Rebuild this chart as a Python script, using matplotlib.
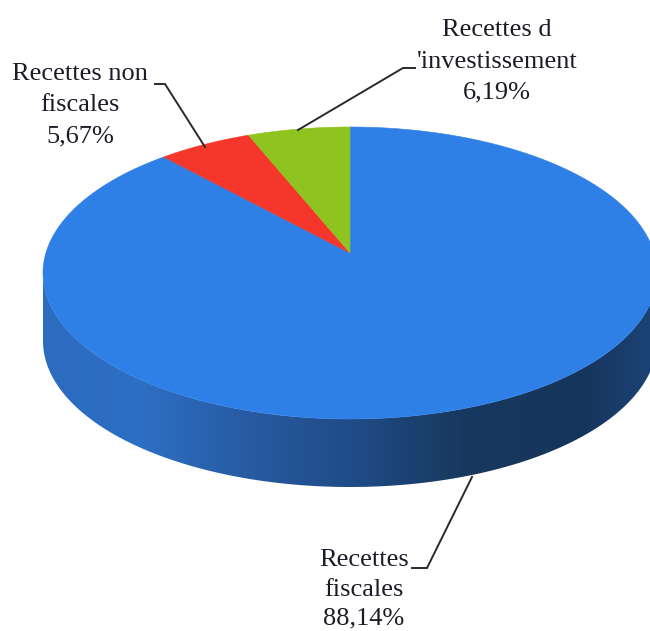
import numpy as np
import matplotlib
matplotlib.use("Agg")
import matplotlib.pyplot as plt
from matplotlib.colors import LinearSegmentedColormap
from matplotlib.patches import Polygon

# Data
categories = ["Recettes fiscales", "Recettes non fiscales", "Recettes d 'investissement"]
shares = [88.14, 5.67, 6.19]
colors = ["#2F80E6", "#F5372B", "#8FC31F"]
labels = [["Recettes", "fiscales", "88,14%"],
          ["Recettes non", "fiscales", "5,67%"],
          ["Recettes d", "'investissement", "6,19%"]]
label_xy = [(364, [560, 590, 618]), (80, [74, 105, 136]), (497, [30, 62, 92])]
leaders = [[(472, 477), (427, 568), (412, 568)],
           [(205, 147), (165, 84), (155, 84)],
           [(298, 130), (403, 68), (415, 68)]]

# Pie geometry in pixels
cx, cy, a, b = 350, 273, 307, 146
apex_y = 253
depth = 68
o = (cy - apex_y) / b

fig = plt.figure(figsize=(6.5, 6.31), dpi=100, facecolor="white")
ax = fig.add_axes([0, 0, 1, 1])


def rim(theta):
    """Point on the top ellipse met by the ray from the apex at pie angle theta (clockwise from 12 o'clock)."""
    c, s = np.cos(theta), np.sin(theta)
    r = -o * c + np.sqrt(o**2 * c**2 - o**2 + 1)
    return cx + a * r * s, apex_y - b * r * c


# Side wall with horizontal gradient
side_cmap = LinearSegmentedColormap.from_list(
    "side",
    [(0.00, "#2B6CBF"), (0.16, "#2D6FC4"), (0.35, "#27599F"), (0.50, "#204C88"),
     (0.68, "#18395F"), (0.88, "#16355C"), (1.00, "#1C4478")])
t = np.linspace(0, np.pi, 300)
xs = cx - a * np.cos(t)
ys = cy + b * np.sin(t)
side_pts = np.vstack([np.column_stack([xs, ys]),
                      np.column_stack([xs[::-1], ys[::-1] + depth])])
im = ax.imshow(np.linspace(0, 1, 512)[None, :], extent=(cx - a, cx + a, 631, 0),
               cmap=side_cmap, aspect="auto", zorder=1, interpolation="bilinear")
clip = Polygon(side_pts, closed=True, transform=ax.transData, fc="none", ec="none")
ax.add_patch(clip)
im.set_clip_path(clip)

# Top face wedges, clockwise from 12 o'clock
start = 0.0
for share, color in zip(shares, colors):
    sweep = share / sum(shares) * 2 * np.pi
    th = np.linspace(start, start + sweep, max(int(share * 8), 30))
    px, py = rim(th)
    ax.fill(np.r_[cx, px], np.r_[apex_y, py], color=color, lw=0.4, zorder=2)
    start += sweep

# Leader lines
for pts in leaders:
    x, y = zip(*pts)
    ax.plot(x, y, color="#2A2A2A", lw=1.4, zorder=3, solid_joinstyle="miter")

# Labels
for lines, (lx, lys) in zip(labels, label_xy):
    for line, ly in zip(lines, lys):
        ax.text(lx, ly, line, ha="center", va="center", family="Liberation Serif",
                fontsize=19, color="#1C1C28", zorder=4)

ax.set_xlim(0, 650)
ax.set_ylim(631, 0)
ax.axis("off")
fig.savefig("out.png", dpi=100)
